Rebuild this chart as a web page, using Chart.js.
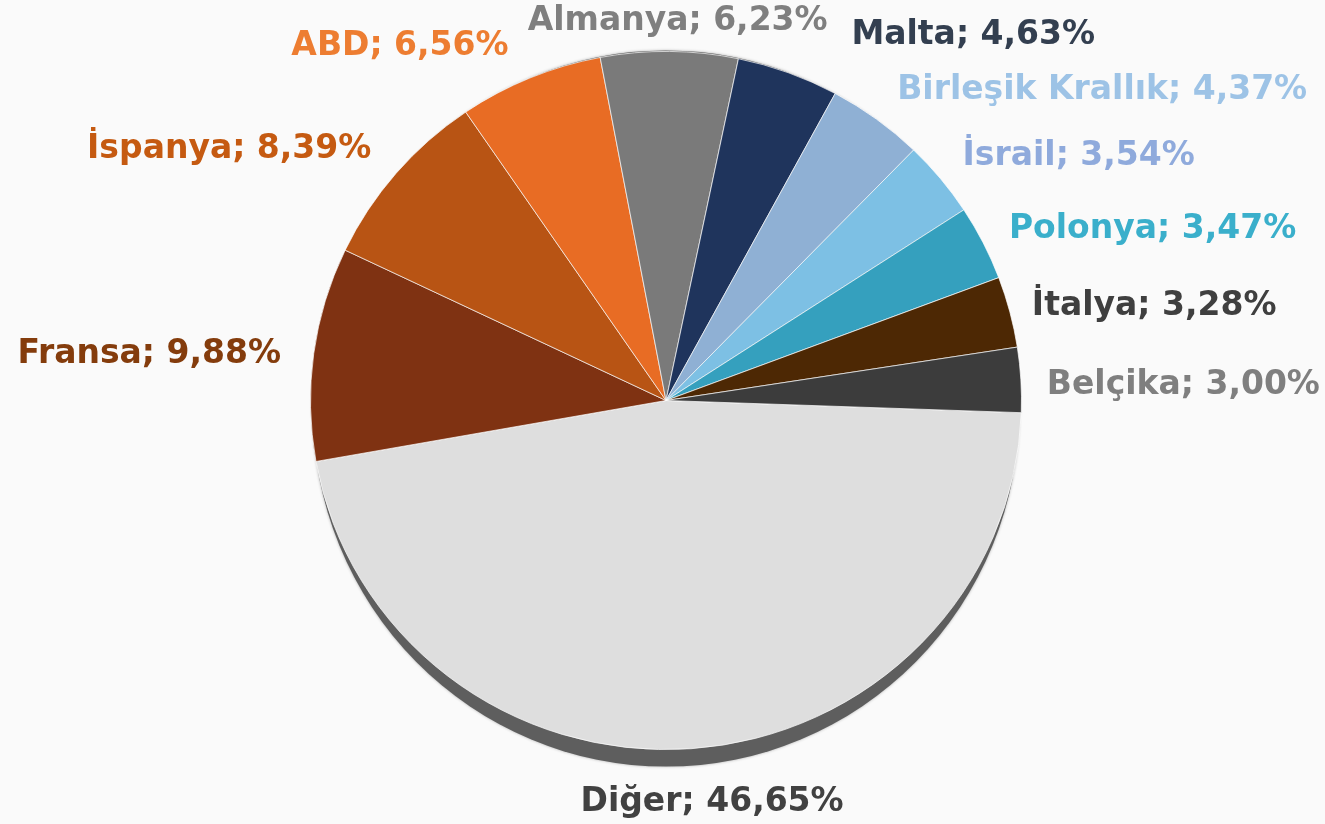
<!DOCTYPE html>
<html>
<head>
<meta charset="utf-8">
<script src="https://cdn.jsdelivr.net/npm/chart.js@4/dist/chart.umd.min.js"></script>
<style>
  html, body { margin: 0; padding: 0; background: #fafafa; }
  #wrap { width: 1325px; height: 824px; position: relative; }
</style>
</head>
<body>
<div id="wrap"><canvas id="pie"></canvas></div>
<script>
// veriler
const countries = ["Diğer", "Fransa", "İspanya", "ABD", "Almanya", "Malta", "Birleşik Krallık", "İsrail", "Polonya", "İtalya", "Belçika"]
const shares = [46.65, 9.88, 8.39, 6.56, 6.23, 4.63, 4.37, 3.54, 3.47, 3.28, 3.00]

const sliceColors = ["#dedede", "#7f3212", "#b85414", "#e86c24", "#7a7a7a", "#1f345c", "#8fb0d4", "#7dc0e4", "#35a0be", "#4d2804", "#3c3c3c"]
const labelColors = ["#414141", "#843c0c", "#c55a11", "#ed7d31", "#7f7f7f", "#333f50", "#9dc3e6", "#8faadc", "#3aafcb", "#3f3f3f", "#7f7f7f"]
// etiket kaydırma (çakışmayı önlemek için)
const labelShiftX = [19, -3, -2, -10, 8, 53, 3, -1, -1, -7, -4]
const labelShiftY = [10, 5, -4, -4, 0, -9, -5, -3, 0, 2, 7]

// hafif 3B görünüm: dikey basıklık + gölge
const squashY = 0.982

const pieDepth = {
  id: "pieDepth",
  beforeDatasetsDraw(chart) {
    const arc = chart.getDatasetMeta(0).data[0]
    if (!arc) return
    const { x, y, outerRadius } = arc.getProps(["x", "y", "outerRadius"], true)
    const ctx = chart.ctx
    const ry = outerRadius * squashY
    ctx.save()
    ctx.shadowColor = "rgba(0,0,0,0.3)"
    ctx.shadowBlur = 3
    ctx.fillStyle = "#5e5e5e"
    ctx.beginPath()
    ctx.ellipse(x, y + 8, outerRadius - 2, ry + 9, 0, 0, Math.PI * 2)
    ctx.fill()
    ctx.restore()

    ctx.save()
    ctx.translate(x, y)
    ctx.scale(1, squashY)
    ctx.translate(-x, -y)
  },
  afterDatasetsDraw(chart) {
    chart.ctx.restore()
  },
}

// dış etiketler
const outerLabels = {
  id: "outerLabels",
  afterDatasetsDraw(chart) {
    const ctx = chart.ctx
    const meta = chart.getDatasetMeta(0)
    ctx.save()
    ctx.font = "bold 33px 'DejaVu Sans'"
    ctx.textBaseline = "middle"
    meta.data.forEach((arc, i) => {
      const { x, y, startAngle, endAngle, outerRadius } = arc.getProps(["x", "y", "startAngle", "endAngle", "outerRadius"], true)
      const mid = (startAngle + endAngle) / 2
      const c = Math.cos(mid)
      const s = Math.sin(mid)
      let lx = x + c * (outerRadius + 30) + labelShiftX[i]
      let ly = y + s * (outerRadius * squashY + 30) + labelShiftY[i]
      if (c > 0.25) ctx.textAlign = "left"
      else if (c < -0.25) ctx.textAlign = "right"
      else ctx.textAlign = "center"
      if (s > 0.9) ly += 14
      const txt = countries[i] + "; " + shares[i].toFixed(2).replace(".", ",") + "%"
      ctx.fillStyle = labelColors[i]
      ctx.fillText(txt, lx, ly)
    })
    ctx.restore()
  },
}

new Chart(document.getElementById("pie"), {
  type: "pie",
  data: {
    labels: countries,
    datasets: [
      {
        data: shares,
        backgroundColor: sliceColors,
        borderColor: "rgba(255,255,255,0.7)",
        borderWidth: 1,
      },
    ],
  },
  options: {
    responsive: true,
    maintainAspectRatio: false,
    animation: false,
    rotation: 92,
    layout: { padding: { top: 44.5, bottom: 67.5, left: 7, right: 0 } },
    plugins: {
      legend: { display: false },
      tooltip: { enabled: false },
    },
  },
  plugins: [pieDepth, outerLabels],
})
</script>
</body>
</html>
